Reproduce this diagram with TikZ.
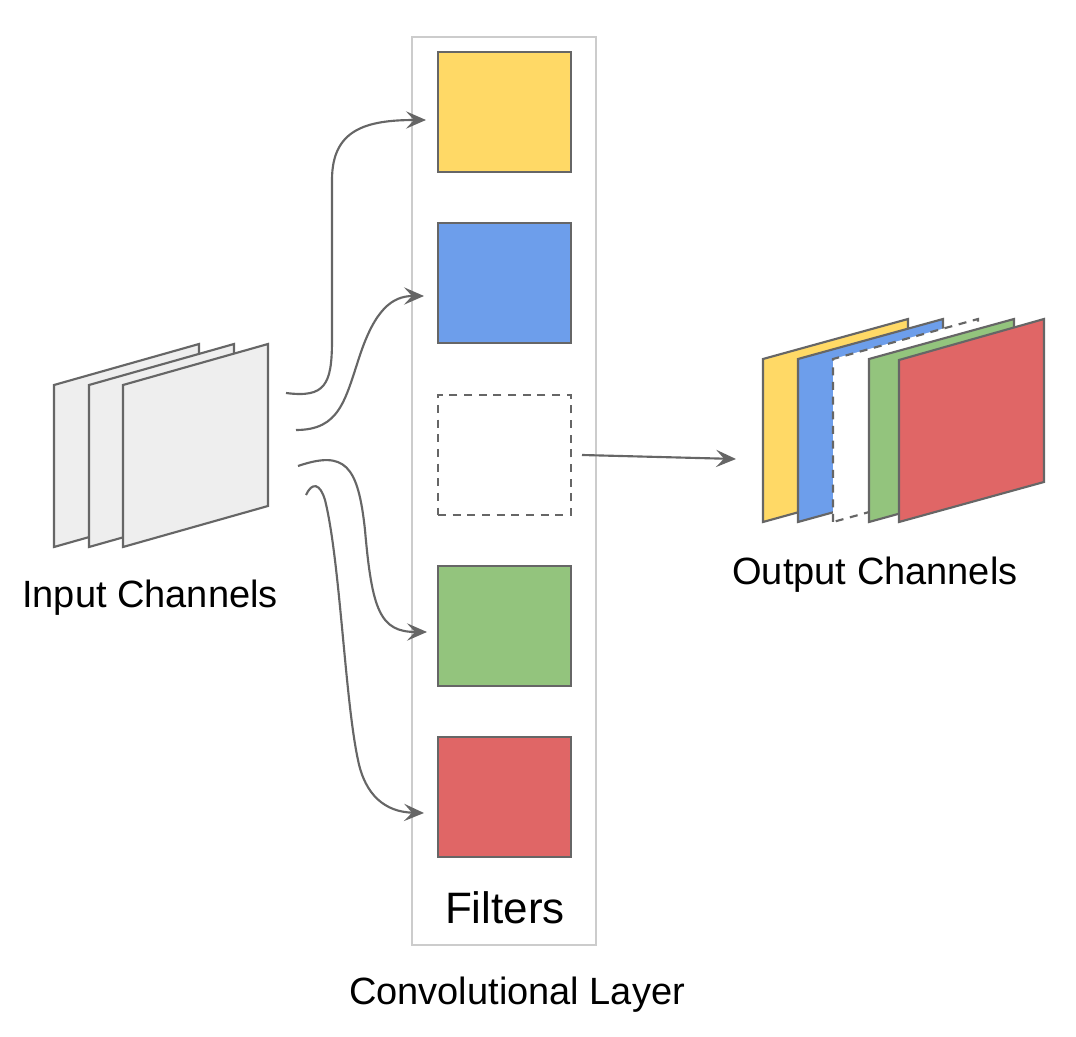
\documentclass[tikz,border=0pt]{standalone}
\usepackage{fontspec}
\setmainfont{Liberation Sans}
\usetikzlibrary{arrows.meta}
\definecolor{cyel}{HTML}{FFD966}
\definecolor{cblu}{HTML}{6D9EEB}
\definecolor{cgrn}{HTML}{93C47D}
\definecolor{cred}{HTML}{E06666}
\definecolor{cstk}{HTML}{666666}
\definecolor{csheet}{HTML}{EEEEEE}
\definecolor{cframe}{HTML}{CCCCCC}
\begin{document}
\begin{tikzpicture}[x=0.75pt,y=-0.75pt,
  filt/.style={draw=cstk,line width=1.6pt,minimum width=99.75pt,minimum height=90pt,inner sep=0pt},
  dashbox/.style={dash pattern=on 6pt off 5pt},
  conn/.style={draw=cstk,line width=1.6pt,-{Stealth[length=15pt,width=13pt,inset=6pt]}},
  sheet/.style={draw=cstk,line width=1.6pt,line join=miter},
  lbl/.style={font=\fontsize{28.5pt}{34pt}\selectfont,inner sep=0pt}]
\useasboundingbox (0,0) rectangle (1076,1037);
% container
\node[draw=cframe,line width=1.6pt,minimum width=138pt,minimum height=681pt,inner sep=0pt] (layer) at (504,491) {};
% filters
\node[filt,fill=cyel] (f1) at (504.5,112) {};
\node[filt,fill=cblu] (f2) at (504.5,283) {};
\node[filt,dashbox,fill=white] (f3) at (504.5,455) {};
\node[filt,fill=cgrn] (f4) at (504.5,626) {};
\node[filt,fill=cred] (f5) at (504.5,797) {};
\node[inner sep=0pt,font=\fontsize{33pt}{38pt}\selectfont] (ftxt) at (505,908) {Filters};
% input sheets
\foreach \x in {54,89,123}{
  \filldraw[sheet,fill=csheet] (\x,547) -- (\x,385) -- (\x+145,344) -- (\x+145,506) -- cycle;
}
\node[lbl] (inlbl) at (150,598) {Input Channels};
% output sheets
\filldraw[sheet,fill=cyel] (763,522) -- (763,359) -- (908,319) -- (908,482) -- cycle;
\filldraw[sheet,fill=cblu] (798,522) -- (798,359) -- (943,319) -- (943,482) -- cycle;
\filldraw[sheet,dashbox,fill=white] (833,522) -- (833,359) -- (978,319) -- (978,482) -- cycle;
\filldraw[sheet,fill=cgrn] (869,522) -- (869,359) -- (1014,319) -- (1014,482) -- cycle;
\filldraw[sheet,fill=cred] (899,522) -- (899,360) -- (1044,319) -- (1044,482) -- cycle;
\node[lbl] (outlbl) at (875,575) {Output Channels};
\node[lbl] (convlbl) at (517,995) {Convolutional Layer};
% connector coordinates
\coordinate (s1) at (286,393);
\coordinate (s2) at (296,430);
\coordinate (s3) at (298,466);
\coordinate (s4) at (306,495);
\coordinate (t1) at (426,120);
\coordinate (t2) at (424,296);
\coordinate (t3) at (427,632);
\coordinate (t4) at (424,813);
\coordinate (oa) at (582,455);
\coordinate (ob) at (736,459);
% curves
\draw[conn] (s1) .. controls (325,398) and (332,385) .. (332,340) -- (332,180) .. controls (332,130) and (365,120) .. (t1);
\draw[conn] (s2) .. controls (340,430) and (345,400) .. (360,355) .. controls (375,310) and (392,296) .. (t2);
\draw[conn] (s3) .. controls (345,450) and (358,465) .. (365,530) .. controls (372,610) and (380,632) .. (t3);
\draw[conn] (s4) .. controls (312,482) and (320,483) .. (325,500) .. controls (340,560) and (345,700) .. (358,760) .. controls (365,795) and (385,812) .. (t4);
\draw[conn] (oa) -- (ob);
\end{tikzpicture}
\end{document}
